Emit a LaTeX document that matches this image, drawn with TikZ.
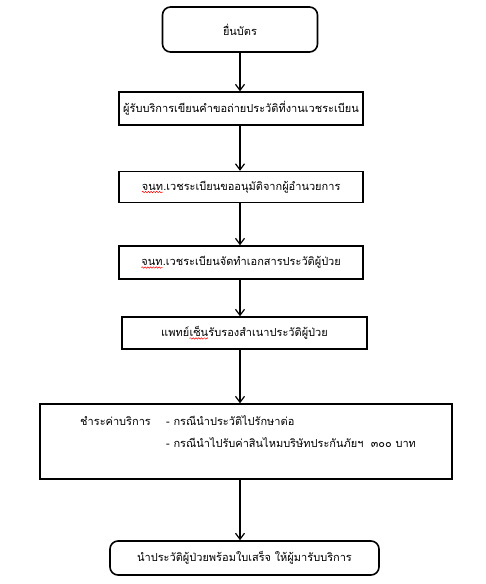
\documentclass[tikz,border=0pt]{standalone}
\usepackage{fontspec}
\newfontfamily\thaifont[Script=Thai]{Loma}
\usetikzlibrary{arrows.meta,decorations.pathmorphing}
% word with a red wavy underline
\newcommand\wavyword[1]{\tikz[baseline=(w.base)]{\node[inner sep=0pt,outer sep=0pt,
    minimum width=0pt,minimum height=0pt,draw=none](w){#1};
  \draw[red,line width=0.5pt,decorate,decoration={snake,amplitude=0.7pt,segment length=2.8pt}]
    ([yshift=-1.8pt]w.base west) -- ([yshift=-1.8pt]w.base east);}}
\begin{document}
\begin{tikzpicture}[x=1pt,y=-1pt,
  font=\thaifont\fontsize{11}{14}\selectfont,
  every node/.style={inner sep=0pt},
  stepbox/.style={draw,line width=1.4pt},
  roundbox/.style={draw,line width=1.6pt,rounded corners=8pt},
  flow/.style={line width=1.4pt,-{Straight Barb[length=6pt,width=9pt,line width=1.2pt]}}]
\useasboundingbox (0,0) rectangle (485,584);

% boxes of the procedure
\node[roundbox,minimum width=155pt,minimum height=45pt] (s1) at (240,29.5) {ยื่นบัตร};
\node[stepbox,minimum width=244pt,minimum height=33pt] (s2) at (241,108.5) {ผู้รับบริการเขียนคำขอถ่ายประวัติที่งานเวชระเบียน};
\node[stepbox,minimum width=244pt,minimum height=31pt] (s3) at (241,187) {\wavyword{จนท}.เวชระเบียนขออนุมัติจากผู้อำนวยการ};
\node[stepbox,minimum width=244pt,minimum height=33pt] (s4) at (241,262.5) {\wavyword{จนท}.เวชระเบียนจัดทำเอกสารประวัติผู้ป่วย};
\node[stepbox,minimum width=245pt,minimum height=32pt] (s5) at (244.5,333) {แพทย์\wavyword{เซ็น}รับรองสำเนาประวัติผู้ป่วย};
\node[stepbox,minimum width=412pt,minimum height=75pt] (s6) at (246,441.5) {};
\node[roundbox,minimum width=269pt,minimum height=34pt] (s7) at (244.5,558) {นำประวัติผู้ป่วยพร้อมใบเสร็จ ให้ผู้มารับบริการ};

% payment details
\node[anchor=west] (pay) at (80,421) {ชำระค่าบริการ};
\node[anchor=west] (c1) at (166,421) {- กรณีนำประวัติไปรักษาต่อ};
\node[anchor=west] (c2) at (166,443) {- กรณีนำไปรับค่าสินไหมบริษัทประกันภัยฯ~~๓๐๐ บาท};

% connectors
\draw[flow] (240,0 |- s1.south) -- (240,0 |- s2.north);
\draw[flow] (240,0 |- s2.south) -- (240,0 |- s3.north);
\draw[flow] (240,0 |- s3.south) -- (240,0 |- s4.north);
\draw[flow] (240,0 |- s4.south) -- (240,0 |- s5.north);
\draw[flow] (240,0 |- s5.south) -- (240,0 |- s6.north);
\draw[flow] (240,0 |- s6.south) -- (240,0 |- s7.north);
\end{tikzpicture}
\end{document}
